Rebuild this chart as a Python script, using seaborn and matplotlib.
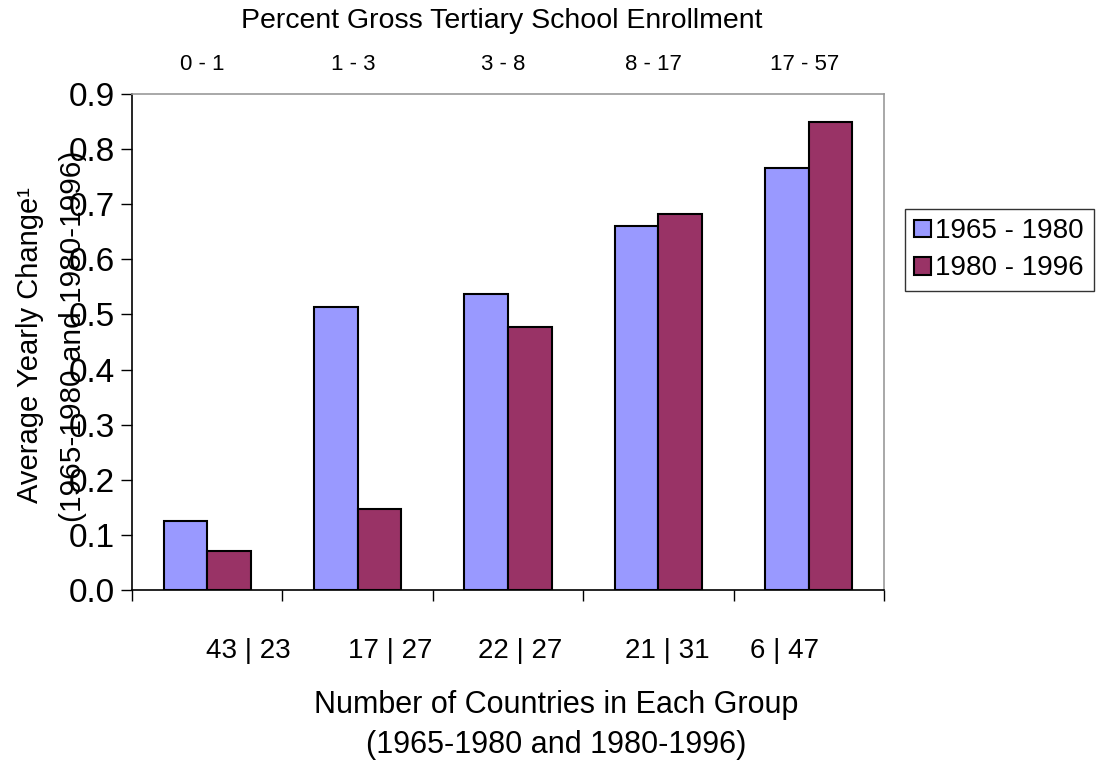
import numpy as np
import pandas as pd
import matplotlib
matplotlib.use("Agg")
import matplotlib.pyplot as plt
import seaborn as sns

# data
groups = ["0 - 1", "1 - 3", "3 - 8", "8 - 17", "17 - 57"]
counts = ["43 | 23", "17 | 27", "22 | 27", "21 | 31", "6 | 47"]
periods = ["1965 - 1980", "1980 - 1996"]
vals_6580 = [0.125, 0.514, 0.537, 0.661, 0.766]
vals_8096 = [0.071, 0.147, 0.477, 0.682, 0.849]

df = pd.DataFrame({
    "group": groups * 2,
    "period": [periods[0]] * 5 + [periods[1]] * 5,
    "value": vals_6580 + vals_8096,
})

sns.set_style("white")
plt.rcParams["font.family"] = ["Liberation Sans", "DejaVu Sans"]
plt.rcParams["text.color"] = "black"
plt.rcParams["xtick.color"] = "black"
plt.rcParams["ytick.color"] = "black"

fig = plt.figure(figsize=(11.02, 7.62), dpi=100)
ax = fig.add_axes([0.1198, 0.2257, 0.6824, 0.6509])

sns.barplot(data=df, x="group", y="value", hue="period", order=groups,
            hue_order=periods, palette=["#9999FF", "#993366"],
            width=0.58, edgecolor="black", linewidth=1.5, saturation=1,
            ax=ax)

ax.set_xlim(-0.5, 4.5)
ax.set_ylim(0, 0.9)
ax.set_yticks(np.arange(0, 0.91, 0.1))
ax.set_yticklabels([f"{v:.1f}" for v in np.arange(0, 0.91, 0.1)], fontsize=24)
ax.tick_params(axis="y", direction="out", length=8, width=1, color="black",
               left=True, pad=4)

# category boundary ticks on the bottom
ax.set_xticks(np.arange(-0.5, 4.6, 1))
ax.set_xticklabels([])
ax.tick_params(axis="x", direction="out", length=8, width=1, color="black",
               bottom=True)
ax.set_xlabel("")
ax.set_ylabel("")

for side in ["left", "bottom"]:
    ax.spines[side].set_color("black")
    ax.spines[side].set_linewidth(1.2)
for side in ["top", "right"]:
    ax.spines[side].set_color("#999999")
    ax.spines[side].set_linewidth(1.2)

# enrollment ranges on top
top = ax.secondary_xaxis("top")
top.set_xticks(np.arange(len(groups)) - 0.03)
top.set_xticklabels(groups, fontsize=16)
top.tick_params(length=0, pad=14)
top.spines["top"].set_visible(False)
fig.text(0.455, 0.972, "Percent Gross Tertiary School Enrollment",
         ha="center", va="center", fontsize=20.5)

# country counts under the bars
count_x = [0.27, 1.215, 2.08, 3.06, 3.84]
for xp, lab in zip(count_x, counts):
    ax.text(xp, -0.11, lab, ha="center", va="center", fontsize=20)

fig.text(0.505, 0.075, "Number of Countries in Each Group",
         ha="center", va="center", fontsize=22)
fig.text(0.505, 0.022, "(1965-1980 and 1980-1996)",
         ha="center", va="center", fontsize=22)

fig.text(0.027, 0.547, "Average Yearly Change\u00b9", rotation=90,
         ha="center", va="center", fontsize=21)
fig.text(0.066, 0.558, "(1965-1980 and 1980-1996)", rotation=90,
         ha="center", va="center", fontsize=21.5)

leg = ax.legend(loc="center left", bbox_to_anchor=(0.821, 0.672),
                bbox_transform=fig.transFigure, fontsize=20, frameon=True,
                fancybox=False, edgecolor="black", handlelength=0.6,
                handleheight=0.6, handletextpad=0.15, borderpad=0.35,
                labelspacing=0.4, borderaxespad=0)
leg.get_frame().set_linewidth(1)

fig.savefig("out.png", dpi=100)
